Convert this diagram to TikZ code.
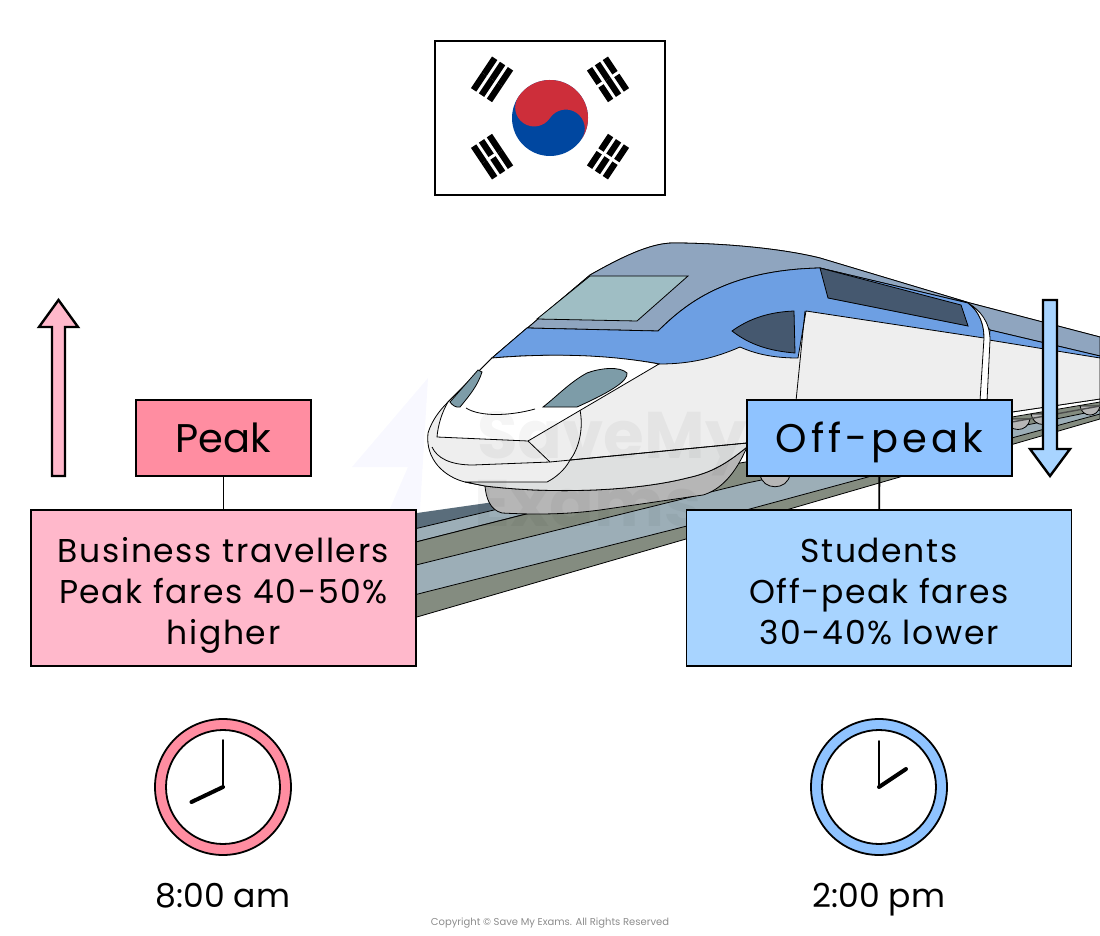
\documentclass[tikz,border=0pt]{standalone}
\usepackage{fontspec}
\setmainfont{Poppins}
\newfontfamily\spacedfont[LetterSpace=5]{Poppins}
\newfontfamily\dashfont[LetterSpace=10]{Poppins}
\usetikzlibrary{calc}
\definecolor{peakdark}{HTML}{FF8DA1}
\definecolor{peaklight}{HTML}{FFB8CB}
\definecolor{offdark}{HTML}{8FC3FF}
\definecolor{offlight}{HTML}{A8D4FF}
\definecolor{roofgrey}{HTML}{8FA5BF}
\definecolor{bandblue}{HTML}{6D9FE3}
\definecolor{bodygrey}{HTML}{EEEEEE}
\definecolor{skirtlight}{HTML}{DEE0E0}
\definecolor{skirtdark}{HTML}{B6B6B6}
\definecolor{glass}{HTML}{9FBEC4}
\definecolor{glassdark}{HTML}{7D9CA8}
\definecolor{cabdark}{HTML}{45586F}
\definecolor{railpale}{HTML}{9CAEB7}
\definecolor{railolive}{HTML}{848C80}
\definecolor{raildark}{HTML}{5A6D7B}
\definecolor{flagred}{HTML}{CD2E3A}
\definecolor{flagblue}{HTML}{0047A0}
\newcommand{\infotop}{\rule{0pt}{40pt}}
\newcommand{\infoend}{\rule[-10pt]{0pt}{10pt}}
\tikzstyle{titlebox} = [rectangle, draw=black, line width=1.8pt, minimum height=76pt, inner ysep=0pt, text height=38pt, text depth=10pt, text=black]
\tikzstyle{infobox} = [rectangle, draw=black, line width=1.8pt, minimum width=385pt, minimum height=156pt, inner ysep=0pt, align=center, font=\spacedfont\fontsize{33}{41}\selectfont]
\tikzstyle{timelabel} = [font=\fontsize{33}{38}\selectfont, text height=30pt, text depth=6pt, inner ysep=0pt]
\tikzstyle{clockring} = [circle, draw=black, line width=1.8pt, minimum size=136pt, inner sep=0pt]
\tikzstyle{clockface} = [circle, draw=black, fill=white, line width=1.8pt, minimum size=114pt, inner sep=0pt]
\tikzstyle{trainline} = [draw=black, line width=0.8pt]
\tikzstyle{bigarrow} = [draw=black, line width=2.4pt, line join=miter]
\tikzstyle{hourhand} = [line width=4pt, line cap=round]
\tikzstyle{minutehand} = [line width=2pt, line cap=round]

\begin{document}
\begin{tikzpicture}[x=1pt,y=-1pt]
\useasboundingbox (0,0) rectangle (1100,936);

% flag
\node (flag) [rectangle, draw=black, line width=1.6pt, fill=white, minimum width=230pt, minimum height=154pt] at (550,118) {};
\begin{scope}[shift={(550,118)},x=1pt,y=1pt]
\foreach \ang/\a/\b/\c in {146.31/0/0/0, 33.69/1/0/1, 213.69/0/1/0, -33.69/1/1/1} {
  \begin{scope}[rotate=\ang]
  \foreach \rr/\brk in {57/\a, 66.5/\b, 76/\c} {
    \fill[black] (\rr,-19) rectangle ++(6.33,{19-1.6*\brk});
    \fill[black] (\rr,19) rectangle ++(6.33,{-19+1.6*\brk});
  }
  \end{scope}
}
\begin{scope}[rotate=-33.69]
\fill[flagblue] (0,0) circle (38);
\fill[flagred] (-38,0) arc (180:0:38) arc (0:180:19) arc (0:-180:19) -- cycle;
\end{scope}
\end{scope}

% rails
\fill[raildark] (410,514) -- (487,503) -- (600,480) -- (600,503) -- (410,531) -- cycle;
\draw[trainline, fill=railpale] (410,530) -- (620,480) -- (620,490) -- (410,543.5) -- cycle;
\draw[trainline, fill=railolive] (410,543.5) -- (700,470) -- (1100,400) -- (1100,419) -- (410,619) -- cycle;
\draw[trainline, fill=railpale] (410,566.5) -- (747,483) -- (1012,428) -- (1100,410) -- (1100,414) -- (820,490) -- (687,526) -- (410,596) -- cycle;

% wheels
\foreach \wx/\wy/\wr in {775/474/15, 1018/419/12, 1043/414/12, 1090/406/10} {
  \draw[trainline, fill=skirtdark] (\wx-\wr,\wy) .. controls (\wx-\wr+2,\wy+\wr+2) and (\wx+\wr-2,\wy+\wr+2) .. (\wx+\wr,\wy) -- cycle;
}
\draw[line width=0.8pt, fill=white] (1012,412) -- (1100,399) -- (1100,402) -- (1012,417) -- cycle;
\draw[line width=1.4pt, draw=black!70] (1012,422) -- (1100,406);

% train
\draw[trainline, fill=skirtdark] (485,486) .. controls (486,498) and (490,510) .. (502,513) .. controls (540,515) and (570,514) .. (600,510) -- (703,495) .. controls (720,490) and (735,475) .. (747,447) -- cycle;
\draw[trainline, fill=bodygrey] (428,433) .. controls (432,420) and (440,410) .. (448,402) -- (492,358) -- (590,275) .. controls (620,258) and (650,243) .. (673,243) .. controls (720,243) and (780,248) .. (820,258) -- (970,303) -- (1100,337) -- (1100,399) -- (1012,412) -- (747,447) .. controls (725,465) and (710,473) .. (687,478) .. controls (640,490) and (560,495) .. (485,486) -- (465,482) .. controls (445,477) and (425,460) .. (428,433) -- cycle;
\draw[trainline, fill=roofgrey] (492,358) -- (590,275) .. controls (620,258) and (650,243) .. (673,243) .. controls (720,243) and (780,248) .. (820,258) -- (970,303) -- (1100,337) -- (1100,356) -- (990,330) -- (968,303) -- (820,268) .. controls (720,270) and (680,310) .. (658,331) -- (527,328) -- cycle;
\draw[trainline, fill=bandblue] (492,358) -- (527,328) -- (658,331) .. controls (680,310) and (720,270) .. (820,268) -- (968,303) .. controls (980,312) and (984,325) .. (984,338) -- (806,311) -- (798,358) .. controls (780,358) and (760,356) .. (740,347) .. controls (715,358) and (690,364) .. (660,364) .. controls (620,357) and (560,352) .. (492,358) -- cycle;
\draw[trainline, fill=bandblue] (990,330) -- (1100,356) -- (1100,358) -- (989,340) -- cycle;
\draw[trainline, fill=white] (968,303) .. controls (980,310) and (990,322) .. (990,340) -- (987,401) -- (980,401) -- (984,338) .. controls (984,325) and (980,312) .. (968,303) -- cycle;
\draw[trainline] (805,311) -- (796,401);
\draw[trainline, fill=cabdark] (820,268) -- (961,305) -- (968,326) -- (828,298) -- cycle;
\draw[trainline, fill=cabdark] (732,331) .. controls (750,318) and (770,312) .. (794,311) -- (795,353) .. controls (770,351) and (750,345) .. (732,331) -- cycle;
\draw[trainline, fill=glass] (590,276) -- (688,276) -- (637,321) -- (537,319) -- cycle;
\draw[trainline, fill=white] (492,358) .. controls (540,354) and (600,353) .. (659,364) -- (528,441) -- (437,437) .. controls (438,425) and (442,412) .. (448,402) -- cycle;
\draw[trainline, fill=glassdark] (543,407) .. controls (555,398) and (570,382) .. (587,373) .. controls (600,368) and (620,366) .. (627,373) .. controls (628,380) and (615,390) .. (577,407) -- cycle;
\draw[trainline, fill=glassdark] (450,402) -- (478,370) -- (482,372) .. controls (478,385) and (470,395) .. (460,407) .. controls (456,408) and (452,405) .. (450,402) -- cycle;
\draw[trainline] (466,408) .. controls (480,417) and (510,416) .. (535,409);
\draw[trainline, fill=skirtlight] (570,460) -- (747,443) -- (747,447) .. controls (725,465) and (710,473) .. (687,478) .. controls (640,490) and (560,495) .. (485,486) -- (465,482) -- (547,482) .. controls (555,478) and (565,470) .. (570,460) -- cycle;
\draw[trainline] (432,447) .. controls (437,458) and (450,465) .. (473,465) -- (550,462) -- (747,443);
\draw[trainline] (528,441) -- (550,462);
\draw[trainline] (580,410) .. controls (584,430) and (578,450) .. (570,460);

% watermark
\fill[blue!40, opacity=0.07] (428,378) -- (352,467) -- (408,467) -- (385,520) -- (420,510) -- cycle;
\node (markone) [font=\bfseries\fontsize{66}{70}\selectfont, text=black, opacity=0.04] at (612,444) {SaveMy};
\node (marktwo) [font=\bfseries\fontsize{66}{70}\selectfont, text=black, opacity=0.04] at (588,504) {Exams};

% boxes
\node (peak) [titlebox, fill=peakdark, minimum width=175pt, font=\fontsize{40}{47}\selectfont] at (223.5,438) {Peak};
\node (peakinfo) [infobox, fill=peaklight] at (223.5,588) {\infotop Business travellers\\Peak fares 40-50\%\\higher\infoend};
\node (offpeak) [titlebox, fill=offdark, minimum width=265pt, font=\dashfont\fontsize{40}{47}\selectfont] at (879.5,438) {Off-peak};
\node (offinfo) [infobox, fill=offlight] at (879,588) {\infotop Students\\Off-peak fares\\30-40\% lower\infoend};
\draw [line width=1.8pt] (peak) -- (peakinfo);
\draw [line width=1.8pt] (offpeak) -- (offinfo);

% arrows
\draw [bigarrow, fill=peaklight] (52,476) -- (65,476) -- (65,327) -- (78,327) -- (58.5,300) -- (39,327) -- (52,327) -- cycle;
\draw [bigarrow, fill=offlight] (1043,300) -- (1057,300) -- (1057,449) -- (1070,449) -- (1050,476) -- (1030,449) -- (1043,449) -- cycle;

% clocks
\node (peakring) [clockring, fill=peakdark] at (223,787) {};
\node (peakface) [clockface] at (223,787) {};
\node (offring) [clockring, fill=offdark] at (879,787) {};
\node (offface) [clockface] at (879,787) {};
\draw [minutehand] (peakface.center) -- (223,740);
\draw [hourhand] (peakface.center) -- (191.5,802);
\draw [minutehand] (offface.center) -- (879,741);
\draw [hourhand] (offface.center) -- (906,769);
\node (peaktime) [timelabel] at (223,895) {8:00 am};
\node (offtime) [timelabel] at (879,895) {2:00 pm};

\node (copyright) [font=\fontsize{10}{12}\selectfont, text=black!45] at (550,923) {Copyright © Save My Exams. All Rights Reserved};
\end{tikzpicture}
\end{document}
